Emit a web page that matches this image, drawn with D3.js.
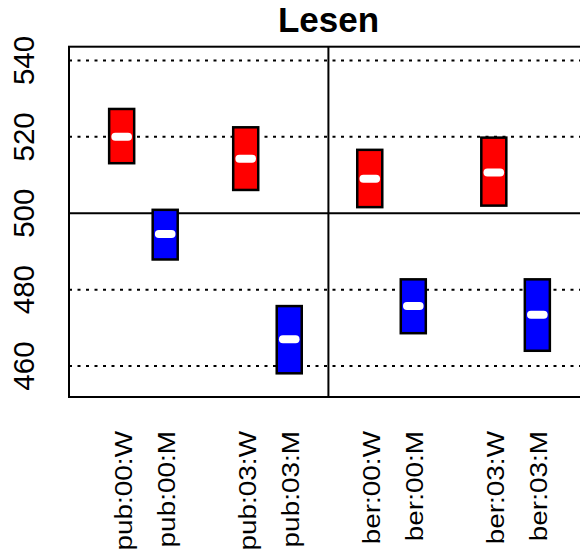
<!DOCTYPE html>
<html>
<head>
<meta charset="utf-8">
<script src="https://cdn.jsdelivr.net/npm/d3@7"></script>
<style>
  body { margin: 0; background: #ffffff; }
  text { font-family: "Liberation Sans", Arial, sans-serif; }
</style>
</head>
<body>
<script>
// Lesen: Konfidenzintervalle nach Schulart, Jahr und Geschlecht

const LS_Width = 580
const LS_Height = 558
const LS_title = 'Lesen'
const LS_labels = ['pub:00:W', 'pub:00:M', 'pub:03:W', 'pub:03:M', 'ber:00:W', 'ber:00:M', 'ber:03:W', 'ber:03:M']
const LS_pos = [0, 1, 2.85, 3.85, 5.7, 6.7, 8.55, 9.55]
const LS_low = [513.1, 487.9, 506.1, 458.1, 501.6, 468.6, 502.0, 464.0]
const LS_high = [527.3, 500.9, 522.5, 475.7, 516.6, 482.7, 519.8, 482.7]
const LS_mean = [520.0, 494.6, 514.3, 467.0, 509.0, 475.7, 510.7, 473.4]
const LS_sex = ['W', 'M', 'W', 'M', 'W', 'M', 'W', 'M']
const LS_yTicks = [460, 480, 500, 520, 540]
const LS_gridDotted = [460, 480, 520, 540]
const LS_refY = 500
const LS_refX = 4.75

const LS_color = d3.scaleOrdinal().domain(['W', 'M']).range(['#ff0000', '#0000ff'])

const LS_x = d3.scaleLinear().domain([-1.21, 10.76]).range([69, 590])
const LS_y = d3.scaleLinear().domain([451.9, 543.6]).range([397, 46.7])

const LS_data = LS_labels.map((l, i) => ({
  label: l, pos: LS_pos[i], low: LS_low[i], high: LS_high[i], mean: LS_mean[i], sex: LS_sex[i]
}))

const LS_Svg = d3.select('body')
  .append('svg')
  .attr('width', LS_Width)
  .attr('height', LS_Height)

// Gitterlinien (gepunktet)
LS_Svg.selectAll('.grid')
  .data(LS_gridDotted)
  .enter()
  .append('line')
  .attr('class', 'grid')
  .attr('x1', LS_x.range()[0])
  .attr('x2', LS_x.range()[1])
  .attr('y1', (d) => LS_y(d))
  .attr('y2', (d) => LS_y(d))
  .attr('stroke', '#000')
  .attr('stroke-width', 2)
  .attr('stroke-dasharray', '3,5.5')

// Referenzlinien
LS_Svg.append('line')
  .attr('x1', LS_x.range()[0])
  .attr('x2', LS_x.range()[1])
  .attr('y1', LS_y(LS_refY))
  .attr('y2', LS_y(LS_refY))
  .attr('stroke', '#000')
  .attr('stroke-width', 2)
LS_Svg.append('line')
  .attr('x1', LS_x(LS_refX))
  .attr('x2', LS_x(LS_refX))
  .attr('y1', LS_y.range()[0])
  .attr('y2', LS_y.range()[1])
  .attr('stroke', '#000')
  .attr('stroke-width', 2)

// Rahmen
LS_Svg.append('rect')
  .attr('x', LS_x.range()[0])
  .attr('y', LS_y.range()[1])
  .attr('width', LS_x.range()[1] - LS_x.range()[0])
  .attr('height', LS_y.range()[0] - LS_y.range()[1])
  .attr('fill', 'none')
  .attr('stroke', '#000')
  .attr('stroke-width', 2)

// Intervalle
const LS_halfW = 0.2875
const LS_halfM = 0.145
const LS_G = LS_Svg.selectAll('.box')
  .data(LS_data)
  .enter()
  .append('g')
  .attr('class', 'box')
LS_G.append('rect')
  .attr('x', (d) => LS_x(d.pos - LS_halfW))
  .attr('y', (d) => LS_y(d.high))
  .attr('width', (d) => LS_x(d.pos + LS_halfW) - LS_x(d.pos - LS_halfW))
  .attr('height', (d) => LS_y(d.low) - LS_y(d.high))
  .attr('fill', (d) => LS_color(d.sex))
  .attr('stroke', '#000')
  .attr('stroke-width', 2.5)
LS_G.append('line')
  .attr('x1', (d) => LS_x(d.pos - LS_halfM))
  .attr('x2', (d) => LS_x(d.pos + LS_halfM))
  .attr('y1', (d) => LS_y(d.mean))
  .attr('y2', (d) => LS_y(d.mean))
  .attr('stroke', '#fff')
  .attr('stroke-width', 8)
  .attr('stroke-linecap', 'round')

// Achsenbeschriftung
LS_Svg.selectAll('.ylab')
  .data(LS_yTicks)
  .enter()
  .append('text')
  .attr('class', 'ylab')
  .attr('transform', (d) => `translate(34,${LS_y(d)}) rotate(-90)`)
  .attr('text-anchor', 'middle')
  .attr('font-size', '29.5px')
  .text((d) => d)

LS_Svg.selectAll('.xlab')
  .data(LS_data)
  .enter()
  .append('text')
  .attr('class', 'xlab')
  .attr('transform', (d) => `translate(${LS_x(d.pos) + 10},431) rotate(-90) scale(1.14,1)`)
  .attr('text-anchor', 'end')
  .attr('font-size', '24.5px')
  .text((d) => d.label)

// Titel
LS_Svg.append('text')
  .attr('x', (LS_x.range()[0] + LS_x.range()[1]) / 2 - 1)
  .attr('y', 32)
  .attr('text-anchor', 'middle')
  .attr('font-size', '35px')
  .attr('font-weight', 'bold')
  .text(LS_title)
</script>
</body>
</html>
